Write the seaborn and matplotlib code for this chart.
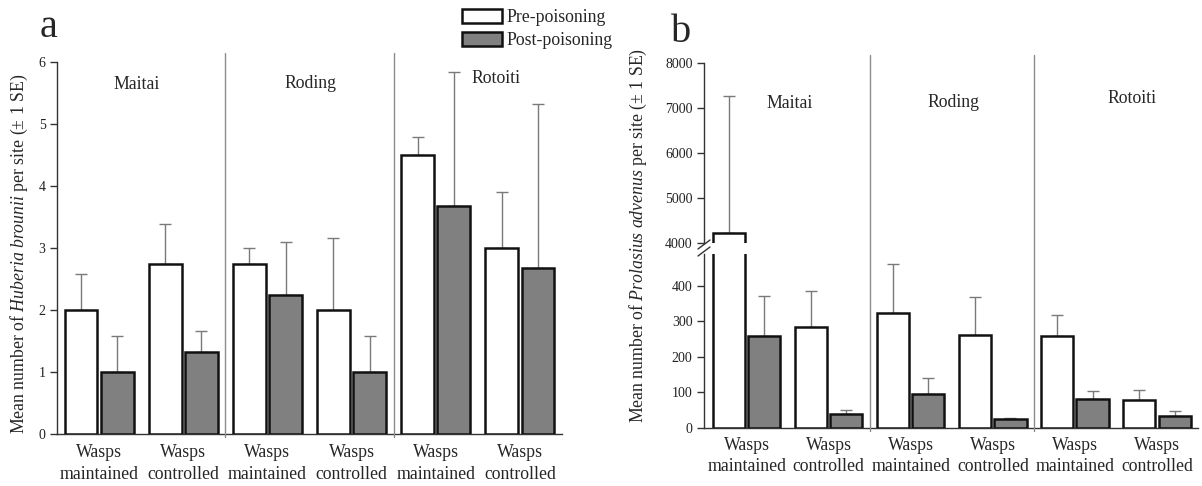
import numpy as np
import pandas as pd
import matplotlib
matplotlib.use("Agg")
import matplotlib.pyplot as plt
import matplotlib.transforms as mtransforms
from matplotlib.patches import Patch
from matplotlib.lines import Line2D
import seaborn as sns

# ---- data -------------------------------------------------------------
sites = ["Maitai", "Roding", "Rotoiti"]
treatments = ["Wasps\nmaintained", "Wasps\ncontrolled"]
periods = ["Pre-poisoning", "Post-poisoning"]

# Huberia brounii, mean per site and +1 SE (Maitai WM, Maitai WC, Roding WM, ...)
huberia_pre = [2.0, 2.75, 2.75, 2.0, 4.5, 3.0]
huberia_pre_se = [0.58, 0.63, 0.25, 1.16, 0.29, 0.90]
huberia_post = [1.0, 1.33, 2.25, 1.0, 3.67, 2.67]
huberia_post_se = [0.58, 0.33, 0.85, 0.58, 2.17, 2.66]

# Prolasius advenus, mean per site and +1 SE
prolasius_pre = [4230, 283, 324, 262, 258, 79]
prolasius_pre_se = [3030, 103, 138, 107, 59, 28]
prolasius_post = [258, 40, 96, 24, 81, 34]
prolasius_post_se = [113, 10, 44, 5, 23, 14]

huberia_ticks = [0, 1, 2, 3, 4, 5, 6]
prolasius_low_ticks = [0, 100, 200, 300, 400]
prolasius_high_ticks = [4000, 5000, 6000, 7000, 8000]

groups = [f"{s} {t}" for s in sites for t in treatments]
tick_labels = treatments * len(sites)

# ---- style ------------------------------------------------------------
sns.set_style("ticks")
plt.rcParams["font.family"] = ["Liberation Serif", "DejaVu Serif"]
plt.rcParams["mathtext.fontset"] = "custom"
plt.rcParams["mathtext.rm"] = "Liberation Serif"
plt.rcParams["mathtext.it"] = "Liberation Serif:italic"

W, H = 1202, 486
fig = plt.figure(figsize=(W / 100, H / 100), dpi=100)
fig.patch.set_facecolor("white")

PRE_COLOR = "white"
POST_COLOR = "#808080"
EDGE = "#111111"
SPINE = "#333333"
ERR = "#7a7a7a"
SEP = "#8c8c8c"
TXT = 12.8


def px_box(x0, y_top, x1, y_bottom):
    """Axes rectangle from pixel edges (y measured from top)."""
    return [x0 / W, 1 - y_bottom / H, (x1 - x0) / W, (y_bottom - y_top) / H]


def draw_bars(ax, pre, pre_se, post, post_se):
    df = pd.DataFrame({
        "group": groups * 2,
        "period": [periods[0]] * len(groups) + [periods[1]] * len(groups),
        "value": list(pre) + list(post),
    })
    sns.barplot(data=df, x="group", y="value", hue="period", order=groups,
                hue_order=periods, palette={periods[0]: PRE_COLOR, periods[1]: POST_COLOR},
                saturation=1, width=0.86, gap=0.09, errorbar=None,
                edgecolor=EDGE, linewidth=1.8, legend=False, ax=ax, zorder=3)
    # upper-only error bars placed on the drawn bars
    bars = sorted(ax.patches, key=lambda p: p.get_x())
    se = [v for pair in zip(pre_se, post_se) for v in pair]
    xs = [p.get_x() + p.get_width() / 2 for p in bars]
    ys = [p.get_height() for p in bars]
    ax.errorbar(xs, ys, yerr=[np.zeros(len(se)), se], fmt="none", ecolor=ERR,
                elinewidth=1.0, capsize=4.6, capthick=1.0, zorder=2)


def style_axis(ax, yticks, xlim):
    ax.set_xlim(*xlim)
    ax.set_yticks(yticks)
    ax.set_xlabel("")
    ax.set_ylabel("")
    for side in ("top", "right"):
        ax.spines[side].set_visible(False)
    for side in ("left", "bottom"):
        ax.spines[side].set_color(SPINE)
        ax.spines[side].set_linewidth(1.0)
    ax.tick_params(axis="y", length=5.2, width=1.0, color=SPINE, pad=3,
                   labelsize=10, labelcolor="#222222")
    ax.set_facecolor("none")


# ---- panel a ------------------------------------------------------------
ax_a = fig.add_axes(px_box(57, 62, 562, 434))
draw_bars(ax_a, huberia_pre, huberia_pre_se, huberia_post, huberia_post_se)
style_axis(ax_a, huberia_ticks, (-0.5, 5.5))
ax_a.set_ylim(0, 6)
ax_a.set_xticks(range(len(groups)))
ax_a.set_xticklabels(tick_labels, fontsize=TXT, linespacing=1.38)
ax_a.tick_params(axis="x", length=0, pad=7.5)

for x, y, name in zip([0.45, 2.51, 4.71], [5.63, 5.66, 5.74], sites):
    ax_a.text(x, y, name, ha="center", va="center", fontsize=TXT)

# ---- panel b (broken y axis) ----------------------------------------------
ax_b = fig.add_axes(px_box(704, 253.6, 1198, 428))
ax_bt = fig.add_axes(px_box(704, 63, 1198, 243))
for ax in (ax_b, ax_bt):
    draw_bars(ax, prolasius_pre, prolasius_pre_se, prolasius_post, prolasius_post_se)

style_axis(ax_b, prolasius_low_ticks, (-0.52, 5.5))
ax_b.set_ylim(0, 490)
ax_b.set_xticks(range(len(groups)))
ax_b.set_xticklabels(tick_labels, fontsize=TXT, linespacing=1.32)
ax_b.tick_params(axis="x", length=0, pad=6.5)

style_axis(ax_bt, prolasius_high_ticks, (-0.52, 5.5))
ax_bt.set_ylim(4000, 8000)
ax_bt.spines["bottom"].set_visible(False)
ax_bt.tick_params(axis="x", bottom=False, labelbottom=False)

for x, y, name in zip([0.52, 2.52, 4.70], [7110, 7130, 7220], sites):
    ax_bt.text(x, y, name, ha="center", va="center", fontsize=TXT)

# break marks on the left spine of panel b
for y0 in (249, 256):
    fig.add_artist(Line2D([698 / W, 710 / W], [1 - y0 / H, 1 - (y0 - 9) / H],
                          transform=fig.transFigure, color=SPINE, lw=1.0))

# ---- site separators (run through the whole panel height) --------------------
for ax, (ytop, ybot) in ((ax_a, (53, 437)), (ax_b, (55, 431))):
    trans = mtransforms.blended_transform_factory(ax.transData, fig.transFigure)
    for xs in (1.5, 3.5):
        fig.add_artist(Line2D([xs, xs], [1 - ybot / H, 1 - ytop / H],
                              transform=trans, color=SEP, lw=1.0))

# ---- axis titles, panel letters, legend ------------------------------------
fig.text(19 / W, 1 - 254 / H,
         r"Mean number of $\it{Huberia\ brounii}$ per site (± 1 SE)",
         rotation=90, ha="center", va="center", fontsize=TXT)
fig.text(638 / W, 1 - 235 / H,
         r"Mean number of $\it{Prolasius\ advenus}$ per site (± 1 SE)",
         rotation=90, ha="center", va="center", fontsize=TXT)

fig.text(40 / W, 1 - 37 / H, "a", fontsize=29, ha="left", va="baseline")
fig.text(671 / W, 1 - 42 / H, "b", fontsize=29, ha="left", va="baseline")

handles = [Patch(facecolor=PRE_COLOR, edgecolor=EDGE, linewidth=1.8),
           Patch(facecolor=POST_COLOR, edgecolor=EDGE, linewidth=1.8)]
fig.legend(handles, periods, loc="upper left", bbox_to_anchor=(462 / W, 1 - 9 / H),
           frameon=False, fontsize=TXT, handlelength=2.25, handleheight=0.85,
           handletextpad=0.25, labelspacing=0.3, borderpad=0, borderaxespad=0)

fig.savefig("out.png", dpi=100, facecolor="white")
